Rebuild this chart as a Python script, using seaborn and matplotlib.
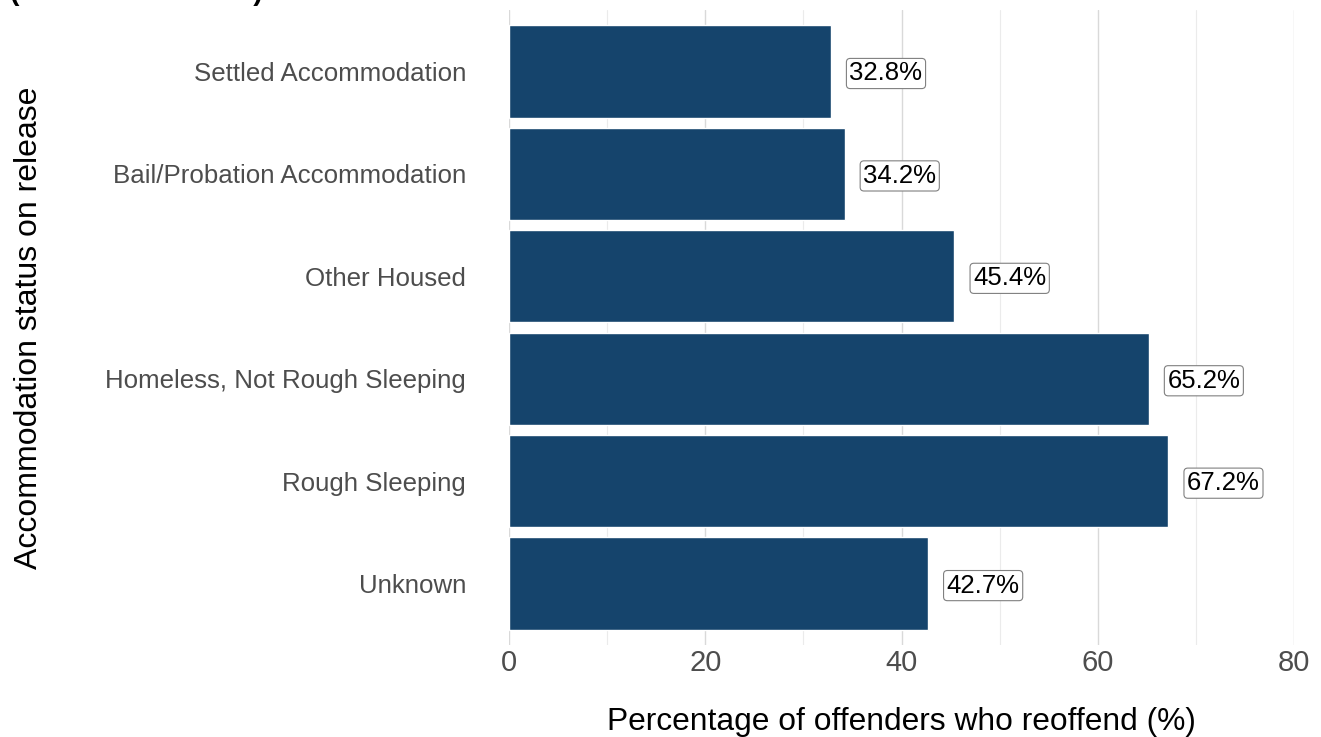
import matplotlib
matplotlib.use("Agg")
import matplotlib.pyplot as plt
import seaborn as sns
import pandas as pd

categories = [
    "Settled Accommodation",
    "Bail/Probation Accommodation",
    "Other Housed",
    "Homeless, Not Rough Sleeping",
    "Rough Sleeping",
    "Unknown",
]
reoffend_pct = [32.8, 34.2, 45.4, 65.2, 67.2, 42.7]
x_ticks = [0, 20, 40, 60, 80]
x_minor = [10, 30, 50, 70]

sns.set_theme(style="white")
plt.rcParams["font.family"] = ["Liberation Sans", "DejaVu Sans"]

df = pd.DataFrame({"status": categories, "pct": reoffend_pct})

W, H = 1321, 737
fig = plt.figure(figsize=(W / 100, H / 100), dpi=100)
left, right, bottom, top = 509, 1294, 645, 10
ax = fig.add_axes([left / W, 1 - bottom / H, (right - left) / W, (bottom - top) / H])

bar_color = "#15446c"
sns.barplot(data=df, y="status", x="pct", order=categories, color=bar_color,
            saturation=1, width=0.9, orient="h", ax=ax, zorder=3)

for xm in x_minor:
    ax.axvline(xm, color="#ebebeb", lw=0.8, zorder=0)
for xt in x_ticks:
    ax.axvline(xt, color="#d9d9d9", lw=1.0, zorder=0)

for i, v in enumerate(reoffend_pct):
    ax.text(v + 1.9, i + 0.02, f"{v}%", va="center", ha="left", fontsize=18.5, color="black",
            zorder=4,
            bbox=dict(boxstyle="round,pad=0.12,rounding_size=0.15", fc="white",
                      ec="#808080", lw=0.8))

ax.set_xlim(0, 80)
ax.set_ylim(5.6, -0.6)
ax.set_xticks(x_ticks)
ax.tick_params(axis="x", labelsize=21, labelcolor="#4d4d4d", length=0, pad=3)
ax.tick_params(axis="y", labelsize=18.6, labelcolor="#4d4d4d", length=0, pad=31)
for s in ax.spines.values():
    s.set_visible(False)

ax.set_xlabel("Percentage of offenders who reoffend (%)", fontsize=22.9, color="black", labelpad=21.5)
ax.set_ylabel("Accommodation status on release", fontsize=23, color="black", labelpad=44)

fig.text(10 / W, 1.0, "(Source: Table 3.3)", fontsize=20.5, fontweight="bold",
         ha="left", va="baseline", color="black")

fig.savefig("out.png", dpi=100)
